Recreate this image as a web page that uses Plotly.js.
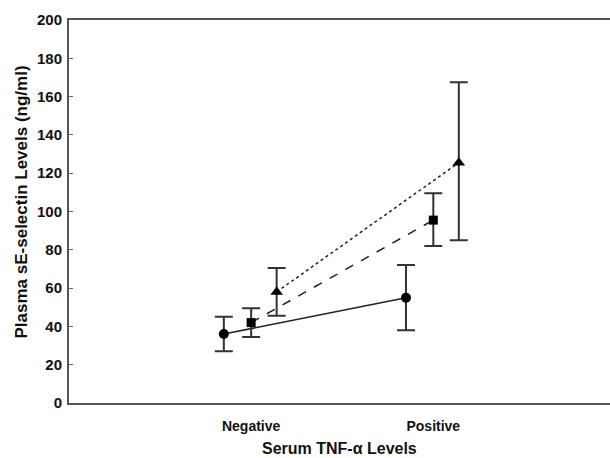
<!DOCTYPE html>
<html>
<head>
<meta charset="utf-8">
<script src="https://cdn.plot.ly/plotly-3.0.1.min.js"></script>
<style>html,body{margin:0;padding:0;background:#fff;}#chart{width:610px;height:458px;}</style>
</head>
<body>
<div id="chart"></div>
<script>
var categories = ["Negative", "Positive"];
var circleMean = [36, 55];
var circlePlus = [9, 17];
var circleMinus = [9, 17];
var squareMean = [42, 95.5];
var squarePlus = [7.5, 14];
var squareMinus = [7.5, 13.5];
var triangleMean = [58, 125.5];
var trianglePlus = [12.5, 42];
var triangleMinus = [12.5, 40.5];
var yTicks = [0, 20, 40, 60, 80, 100, 120, 140, 160, 180, 200];

function xs(offset) { return categories.map(function (c, i) { return i + 1 + offset; }); }

function series(mean, plus, minus, offset, symbol, msize, dash) {
  return {
    type: "scatter", mode: "lines+markers",
    x: xs(offset), y: mean,
    line: {color: "#222", width: 1.5, dash: dash},
    marker: {symbol: symbol, size: msize, color: "#000"},
    error_y: {type: "data", symmetric: false, array: plus, arrayminus: minus,
              color: "#333", thickness: 2, width: 9},
    showlegend: false, hoverinfo: "skip"
  };
}

var data = [
  series(circleMean, circlePlus, circleMinus, -0.15, "circle", 10, "solid"),
  series(squareMean, squarePlus, squareMinus, 0, "square", 9, "dash"),
  series(triangleMean, trianglePlus, triangleMinus, 0.14, "triangle-up", 11, "dot")
];

var layout = {
  width: 610, height: 458,
  margin: {l: 69, r: 0, t: 20, b: 55},
  paper_bgcolor: "#fff", plot_bgcolor: "#fff",
  font: {family: "Liberation Sans, Arial, sans-serif", color: "#111"},
  xaxis: {
    range: [0, 2.97], tickvals: [1, 2], ticktext: categories,
    showgrid: false, zeroline: false, showline: true, mirror: true,
    linecolor: "#555", linewidth: 2, ticks: "",
    ticklabelstandoff: 9,
    tickfont: {family: "Liberation Sans, Arial, sans-serif", size: 14, weight: "bold", color: "#111"}
  },
  yaxis: {
    range: [0, 200], tickvals: yTicks,
    showgrid: false, zeroline: false, showline: true,
    linecolor: "#555", linewidth: 2, ticks: "inside", ticklen: 4, tickcolor: "#666", tickwidth: 1,
    ticklabelstandoff: 2,
    tickfont: {family: "Liberation Sans, Arial, sans-serif", size: 15, weight: "bold", color: "#111"}
  },
  annotations: [
    {text: "Serum TNF-α Levels", xref: "paper", yref: "paper", x: 0.5, y: 0,
     yshift: -45, showarrow: false, xanchor: "center", yanchor: "middle",
     font: {family: "Liberation Sans, Arial, sans-serif", size: 16, weight: "bold", color: "#111"}},
    {text: "Plasma sE-selectin Levels (ng/ml)", xref: "paper", yref: "paper", x: 0, y: 0.5,
     xshift: -48, yshift: 9, textangle: -90, showarrow: false, xanchor: "center", yanchor: "middle",
     font: {family: "Liberation Sans, Arial, sans-serif", size: 17, weight: "bold", color: "#111"}}
  ]
};

Plotly.newPlot("chart", data, layout, {displayModeBar: false, staticPlot: true});
</script>
</body>
</html>
